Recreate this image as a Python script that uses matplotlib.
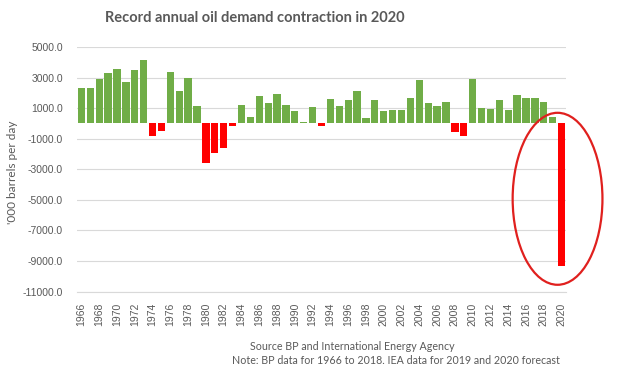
import matplotlib
matplotlib.use("Agg")
import matplotlib.pyplot as plt
from matplotlib.patches import Ellipse
import numpy as np

years = list(range(1966, 2021))
demand_change = [
    2300, 2300, 2900, 3300, 3560, 2710, 3500, 4150, -810, -480,
    3370, 2120, 2970, 1140, -2620, -1930, -1600, -150, 1200, 420,
    1790, 1330, 1920, 1200, 810, 90, 1070, -150, 1600, 1140,
    1530, 2120, 350, 1530, 810, 870, 870, 1660, 2840, 1330,
    1140, 1400, -550, -810, 2910, 1000, 940, 1530, 870, 1860,
    1660, 1660, 1400, 440, -9300,
]
tick_years = years[::2]
y_ticks = [5000, 3000, 1000, -1000, -3000, -5000, -7000, -9000, -11000]

title = "Record annual oil demand contraction in 2020"
ylabel = "'000 barrels per day"
source = "Source BP and International Energy Agency"
note = "Note: BP data for 1966 to 2018. IEA data for 2019 and 2020 forecast"

GREEN = "#70AD47"
RED = "#FF0000"
GREY = "#595959"

fig = plt.figure(figsize=(6.27, 3.77), dpi=100)
ax = fig.add_axes([77/627, 1-291.6/377, (566-77)/627, (291.6-47)/377])

x = np.arange(len(years))
colors = [GREEN if v >= 0 else RED for v in demand_change]
ax.bar(x, demand_change, width=0.82, color=colors, zorder=3)

ax.set_xlim(-0.5, len(years) - 0.5)
ax.set_ylim(-11000, 5000)
ax.set_yticks(y_ticks)
ax.set_yticklabels([f"{v:.1f}" for v in y_ticks], fontsize=7.5, color=GREY,
                   family="Liberation Sans")
ax.set_xticks([years.index(y) for y in tick_years])
ax.set_xticklabels([str(y) for y in tick_years], rotation=90, fontsize=7.5,
                   color=GREY, family="Liberation Sans")
ax.tick_params(axis="both", length=0)
ax.tick_params(axis="y", pad=10)
ax.tick_params(axis="x", pad=8)
ax.grid(axis="y", color="#D9D9D9", linewidth=0.8, zorder=0)
for s in ["top", "right", "left"]:
    ax.spines[s].set_visible(False)
ax.spines["bottom"].set_color("#D9D9D9")
ax.spines["bottom"].set_linewidth(0.8)

fig.text(13/627, 1-172/377, ylabel, rotation=90, ha="center", va="center",
         fontsize=8.5, color=GREY, family="Lato")
fig.text(255/627, 1-18/377, title, ha="center", va="center", fontsize=10.5,
         fontweight="bold", color=GREY, family="Lato")
fig.text(352.5/627, 1-346/377, source, ha="center", va="center", fontsize=7.7,
         color=GREY, family="Lato")
fig.text(395.5/627, 1-361/377, note, ha="center", va="center", fontsize=7.7,
         color=GREY, family="Lato")

# highlight ellipse around the 2020 bar
i2020 = years.index(2020)
ell = Ellipse((i2020 - 0.45, demand_change[i2020] * 0.53), width=10.1, height=11250,
              fill=False, edgecolor="#E0201E", linewidth=1.6, zorder=4, clip_on=False)
ax.add_patch(ell)

fig.savefig("out.png", dpi=100)
